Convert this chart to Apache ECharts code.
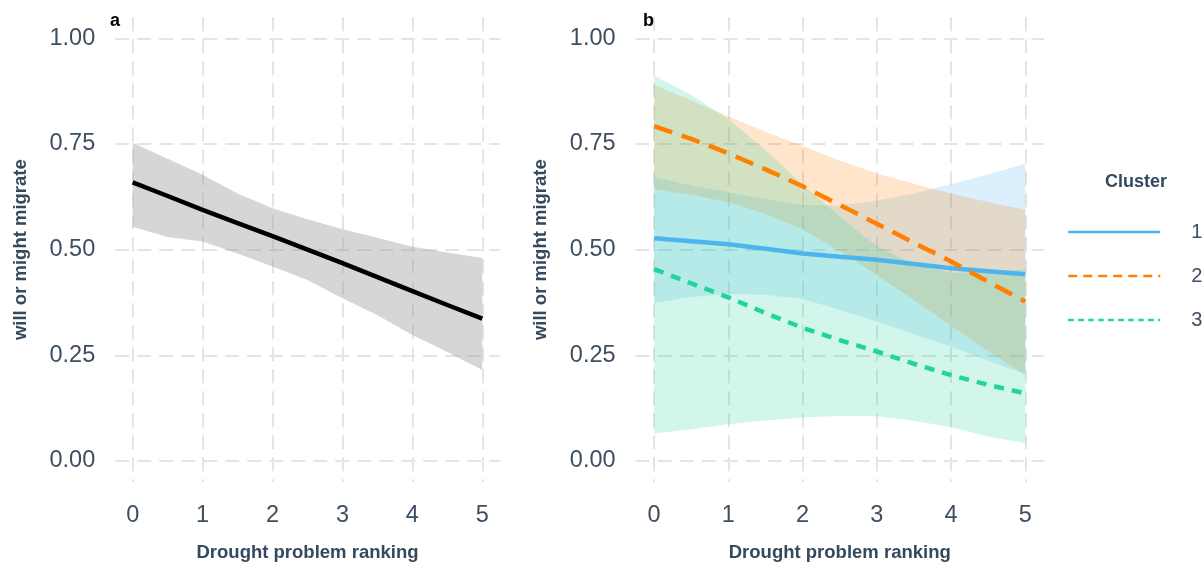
<!DOCTYPE html>
<html><head><meta charset="utf-8">
<script src="https://cdn.jsdelivr.net/npm/echarts@6/dist/echarts.min.js"></script>
<style>html,body{margin:0;padding:0;background:#fff}#c{width:1204px;height:569px}</style>
</head><body><div id="c"></div>
<script>
// ---- data ----
const xTicks = [0, 1, 2, 3, 4, 5];
const yTicks = [0, 0.25, 0.5, 0.75, 1];
const xs = [0, 0.5, 1, 1.5, 2, 2.5, 3, 3.5, 4, 4.5, 5];

// panel a
const aFit   = [0.659, 0.627, 0.594, 0.563, 0.532, 0.500, 0.468, 0.435, 0.402, 0.369, 0.337];
const aUpper = [0.753, 0.715, 0.677, 0.633, 0.598, 0.572, 0.548, 0.528, 0.507, 0.493, 0.480];
const aLower = [0.554, 0.530, 0.519, 0.491, 0.460, 0.428, 0.385, 0.345, 0.298, 0.258, 0.215];

// panel b, clusters
const clusterNames = ['1', '2', '3'];
const c1Fit   = [0.527, 0.520, 0.513, 0.502, 0.491, 0.483, 0.476, 0.466, 0.456, 0.449, 0.442];
const c1Upper = [0.672, 0.652, 0.636, 0.620, 0.606, 0.604, 0.616, 0.633, 0.655, 0.678, 0.704];
const c1Lower = [0.374, 0.388, 0.395, 0.393, 0.383, 0.358, 0.330, 0.300, 0.270, 0.237, 0.205];

const c2Fit   = [0.792, 0.762, 0.728, 0.690, 0.650, 0.606, 0.561, 0.516, 0.472, 0.424, 0.377];
const c2Upper = [0.890, 0.853, 0.815, 0.779, 0.745, 0.711, 0.680, 0.656, 0.633, 0.613, 0.594];
const c2Lower = [0.643, 0.630, 0.612, 0.585, 0.548, 0.497, 0.440, 0.380, 0.320, 0.260, 0.203];

const c3Fit   = [0.454, 0.420, 0.387, 0.350, 0.315, 0.286, 0.259, 0.230, 0.203, 0.180, 0.160];
const c3Upper = [0.912, 0.866, 0.809, 0.735, 0.655, 0.578, 0.508, 0.465, 0.445, 0.448, 0.453];
const c3Lower = [0.065, 0.075, 0.087, 0.096, 0.103, 0.107, 0.106, 0.095, 0.080, 0.058, 0.042];

// ---- styling ----
const FONT = "'Liberation Sans', Arial, sans-serif";
const tickColor = '#3d4e60';
const titleColor = '#34495e';
const gridColor = '#e4e4e4';
const colors = ['#4CB5EE', '#FF7F00', '#20D49A'];
const dashes = ['solid', [19, 10], [10, 8]];
const legendDashes = ['solid', [9, 6], [5.5, 4.5]];

const fits = [c1Fit, c2Fit, c3Fit];
const uppers = [c1Upper, c2Upper, c3Upper];
const lowers = [c1Lower, c2Lower, c3Lower];

const zip = (a, b) => a.map((v, i) => [v, b[i]]);

function ribbon(idx, upper, lower, fill) {
  return {
    type: 'custom', xAxisIndex: idx, yAxisIndex: idx, silent: true,
    data: [[xs[0], upper[0]]],
    renderItem: function (params, api) {
      const pts = [];
      for (let i = 0; i < xs.length; i++) pts.push(api.coord([xs[i], upper[i]]));
      for (let i = xs.length - 1; i >= 0; i--) pts.push(api.coord([xs[i], lower[i]]));
      return { type: 'polygon', shape: { points: pts }, style: { fill: fill } };
    }
  };
}

function xAxis(idx) {
  return {
    type: 'value', gridIndex: idx, min: -0.25, max: 5.25,
    name: 'Drought problem ranking', nameLocation: 'middle', nameGap: 61,
    nameTextStyle: { fontFamily: FONT, fontSize: 18.5, fontWeight: 'bold', color: titleColor },
    axisLine: { show: false },
    axisTick: { show: false, customValues: xTicks },
    axisLabel: { customValues: xTicks, fontFamily: FONT, fontSize: 23.5, color: tickColor, margin: 21,
                 formatter: v => String(v) },
    splitLine: { show: true, lineStyle: { color: gridColor, width: 2, type: [14, 8] } }
  };
}
function yAxis(idx) {
  return {
    type: 'value', gridIndex: idx, min: -0.05, max: 1.05,
    name: 'will or might migrate', nameLocation: 'middle', nameGap: 85,
    nameTextStyle: { fontFamily: FONT, fontSize: 18.5, fontWeight: 'bold', color: titleColor },
    axisLine: { show: false },
    axisTick: { show: false, customValues: yTicks },
    axisLabel: { customValues: yTicks, fontFamily: FONT, fontSize: 23.5, color: tickColor, margin: 20,
                 formatter: v => v.toFixed(2) },
    splitLine: { show: true, lineStyle: { color: gridColor, width: 2, type: [14, 8] } }
  };
}

const series = [];
// panel a
series.push(ribbon(0, aUpper, aLower, 'rgba(153,153,153,0.4)'));
series.push({ type: 'line', xAxisIndex: 0, yAxisIndex: 0, data: zip(xs, aFit), symbol: 'none',
  lineStyle: { color: '#000', width: 4.5 }, silent: true });
// panel b: lines first, ribbons on top
for (let k = 0; k < 3; k++) {
  series.push({ name: clusterNames[k], type: 'line', xAxisIndex: 1, yAxisIndex: 1,
    data: zip(xs, fits[k]), symbol: 'none', color: colors[k],
    lineStyle: { color: colors[k], width: 4.5, type: dashes[k] } });
}
for (let k = 0; k < 3; k++) {
  const c = echarts.color.modifyAlpha(colors[k], 0.2);
  series.push(ribbon(1, uppers[k], lowers[k], c));
}

const chart = echarts.init(document.getElementById('c'), null, { renderer: 'canvas' });
chart.setOption({
  animation: false,
  backgroundColor: '#fff',
  textStyle: { fontFamily: FONT },
  title: [
    { text: 'a', left: 105, top: 7, textStyle: { fontSize: 18, fontWeight: 'bold', color: '#000', fontFamily: FONT } },
    { text: 'b', left: 638, top: 7, textStyle: { fontSize: 18, fontWeight: 'bold', color: '#000', fontFamily: FONT } },
    { text: 'Cluster', left: 1100, top: 168, textStyle: { fontSize: 18, fontWeight: 'bold', color: titleColor, fontFamily: FONT } }
  ],
  grid: [
    { left: 115.2, top: 17.2, width: 384.6, height: 464.9 },
    { left: 635.6, top: 17.2, width: 408.3, height: 464.9 }
  ],
  xAxis: [xAxis(0), xAxis(1)],
  yAxis: [yAxis(0), yAxis(1)],
  legend: {
    orient: 'vertical', left: 1062, top: 217,
    itemWidth: 92, itemHeight: 20, itemGap: 24,
    data: clusterNames.map((n, k) => ({ name: n, itemStyle: { opacity: 0 },
      lineStyle: { width: 2.5, type: legendDashes[k], color: colors[k] } })),
    textStyle: { fontFamily: FONT, fontSize: 20, color: tickColor, padding: [0, 0, 0, 26], lineHeight: 20 }
  },
  series: series
});
</script>
</body></html>
